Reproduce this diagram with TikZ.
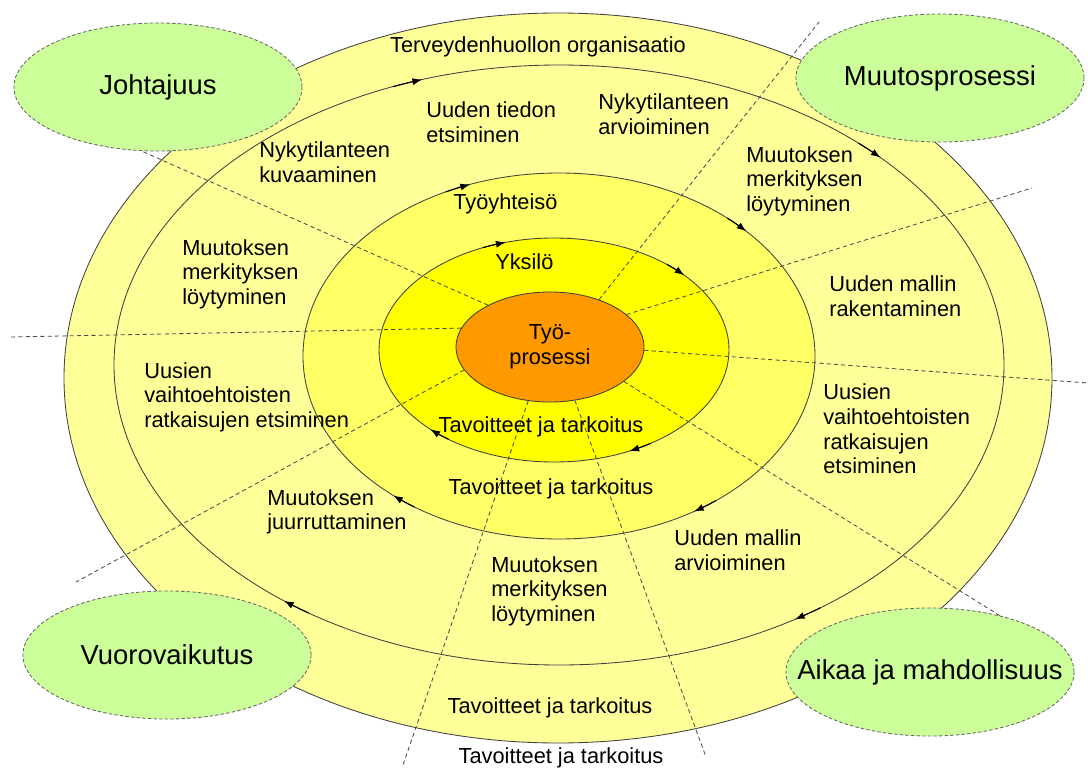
\documentclass[tikz,border=0pt]{standalone}
\usepackage{fontspec}
\setmainfont{Liberation Sans}
\usetikzlibrary{arrows.meta,shapes.geometric}
\definecolor{ylight}{HTML}{FFFF99}
\definecolor{ymid}{HTML}{FFFF66}
\definecolor{ystrong}{HTML}{FFFF00}
\definecolor{orng}{HTML}{FF9900}
\definecolor{ovalgreen}{HTML}{CCFF99}
\begin{document}
\begin{tikzpicture}[x=0.025cm,y=-0.025cm,
  ring/.style={draw=black!75,line width=0.6pt},
  dline/.style={draw=black!70,line width=0.6pt,dash pattern=on 3pt off 2.2pt},
  oval/.style={ellipse,draw=black!60,line width=0.6pt,dash pattern=on 2.5pt off 1.5pt,
    fill=ovalgreen,minimum width=7.2cm,minimum height=3.2cm,inner sep=0pt,
    font=\fontsize{19.5}{22}\selectfont},
  lbl/.style={inner sep=0pt,anchor=west,align=left,font=\fontsize{15.5}{17.5}\selectfont},
  clbl/.style={inner sep=0pt,align=center,font=\fontsize{15.5}{17.5}\selectfont},
  ringarr/.style={black,line width=0.8pt,-{Latex[length=7pt,width=5pt]}},
]
\useasboundingbox (0,0) rectangle (1088,769);

% rings
\path[ring,fill=ylight] (558,378) ellipse [x radius=494, y radius=365];
\path[ring,fill=ylight] (559,365) ellipse [x radius=445, y radius=300];
\path[ring,fill=ymid] (559,356) ellipse [x radius=256, y radius=183];
\path[ring,fill=ystrong] (554,350) ellipse [x radius=175, y radius=112];

% core
\node[ellipse,draw=black!75,line width=0.6pt,fill=orng,minimum width=4.7cm,
  minimum height=2.75cm,clbl] (core) at (550,347) {Työ-\\prosessi};

% dashed radial lines
\coordinate (e1) at (128,145);
\coordinate (e2) at (10,337);
\coordinate (e3) at (76,582);
\coordinate (e4) at (403,765);
\coordinate (e5) at (706,757);
\coordinate (e6) at (1010,622);
\coordinate (e7) at (1088,383);
\coordinate (e8) at (1032,188);
\coordinate (e9) at (819,22);
\draw[dline] (core.146.7) -- (e1);
\draw[dline] (core.168.1) -- (e2);
\draw[dline] (core.195.9) -- (e3);
\draw[dline] (core.248.2) -- (e4);
\draw[dline] (core.295.3) -- (e5);
\draw[dline] (core.335.8) -- (e6);
\draw[dline] (core.358.2) -- (e7);
\draw[dline] (core.23) -- (e8);
\draw[dline] (core.44.4) -- (e9);

% clockwise arrows on the rings
\foreach \t in {252.1,316.3,58,128.2}
  \draw[ringarr] plot[domain=\t-4:\t,samples=6,variable=\a] ({559+445*cos(\a)},{365+300*sin(\a)});
\foreach \t in {249.7,317.1,58.2,130.4}
  \draw[ringarr] plot[domain=\t-6:\t,samples=6,variable=\a] ({559+256*cos(\a)},{356+183*sin(\a)});
\foreach \t in {254,318.2,64.5,135}
  \draw[ringarr] plot[domain=\t-8:\t,samples=6,variable=\a] ({554+175*cos(\a)},{350+112*sin(\a)});

% labels
\node[clbl] (t1) at (538,47) {Terveydenhuollon organisaatio};
\node[lbl] (t2) at (426,122) {Uuden tiedon\\etsiminen};
\node[lbl] (t3) at (598,114) {Nykytilanteen\\arvioiminen};
\node[lbl] (t4) at (259,162) {Nykytilanteen\\kuvaaminen};
\node[lbl] (t5) at (746,181) {Muutoksen\\merkityksen\\löytyminen};
\node[lbl] (t6) at (453,204) {Työyhteisö};
\node[lbl] (t7) at (495,262) {Yksilö};
\node[lbl] (t8) at (182,274) {Muutoksen\\merkityksen\\löytyminen};
\node[lbl] (t9) at (829,296) {Uuden mallin\\rakentaminen};
\node[lbl] (t10) at (144,397) {Uusien\\vaihtoehtoisten\\ratkaisujen etsiminen};
\node[lbl] (t11) at (823,429) {Uusien\\vaihtoehtoisten\\ratkaisujen\\etsiminen};
\node[clbl] (t12) at (541,427) {Tavoitteet ja tarkoitus};
\node[clbl] (t13) at (551,489) {Tavoitteet ja tarkoitus};
\node[lbl] (t14) at (267,512) {Muutoksen\\juurruttaminen};
\node[lbl] (t15) at (674,550) {Uuden mallin\\arvioiminen};
\node[lbl] (t16) at (491,591) {Muutoksen\\merkityksen\\löytyminen};
\node[clbl] (t17) at (550,708) {Tavoitteet ja tarkoitus};
\node[clbl] (t18) at (561,758) {Tavoitteet ja tarkoitus};

% green ovals
\node[oval] (johtajuus) at (158,87) {\makebox[0pt]{Johtajuus}};
\node[oval] (muutos) at (940,78) {\makebox[0pt]{Muutosprosessi}};
\node[oval] (vuoro) at (167,655) {\makebox[0pt]{Vuorovaikutus}};
\node[oval] (aikaa) at (930,672) {\makebox[0pt]{Aikaa ja mahdollisuus}};
\end{tikzpicture}
\end{document}
